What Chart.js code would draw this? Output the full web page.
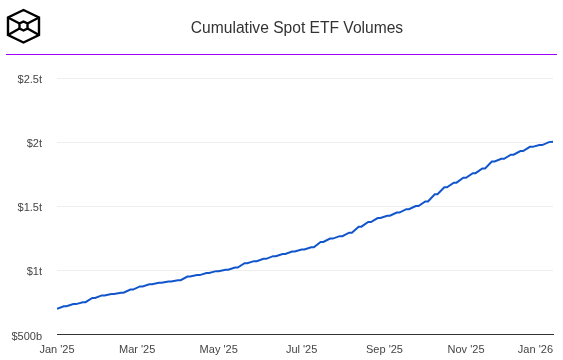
<!DOCTYPE html>
<html lang="en">
<head>
  <meta charset="UTF-8" />
  <title>Cumulative Spot ETF Volumes</title>
  <script src="https://cdn.jsdelivr.net/npm/chart.js"></script>
  <style>
    body {
      margin: 0;
      background: #fff;
      font-family: "Liberation Sans", Arial, sans-serif;
    }
    .wrap {
      position: relative;
      width: 563px;
      height: 360px;
      overflow: hidden;
    }
    #chart {
      position: absolute;
      left: 0;
      top: 0;
    }
    .logo {
      position: absolute;
      left: 0;
      top: 0;
    }
    .title {
      position: absolute;
      left: 40px;
      width: 514px;
      top: 18px;
      text-align: center;
      font-size: 15.6px;
      line-height: 20px;
      color: #333;
    }
    .rule {
      position: absolute;
      left: 6px;
      width: 551px;
      top: 54px;
      height: 1px;
      background: #a000ff;
    }
  </style>
</head>
<body>
  <div class="wrap">
    <canvas id="chart" width="563" height="360"></canvas>
    <svg class="logo" width="50" height="50" fill="none" stroke="#000" stroke-width="2.4">
      <path d="M23.5 10 L39 17.5 V35 L23.5 42.5 L8 35 V17.5 Z" />
      <path d="M23.5 21.5 L27.5 23.5 V28.5 L23.5 30.5 L19.5 28.5 V23.5 Z" />
      <path d="M8 17.5 L19.5 23.5 M39 17.5 L27.5 23.5 M8 35 L19.5 28.5 M39 35 L27.5 28.5" />
    </svg>
    <div class="title">Cumulative Spot ETF Volumes</div>
    <div class="rule"></div>
  </div>

  <script>
    // days along the axis, weekdays rise and the weekend stays flat
    const days = [0, 5, 7, 12, 14, 19, 21, 26, 28, 33, 35, 40, 42, 47, 49, 54, 56, 61, 63, 68,
      70, 75, 77, 82, 84, 89, 91, 96, 98, 103, 105, 110, 112, 117, 119, 124, 126, 131, 133, 138,
      140, 145, 147, 152, 154, 159, 161, 166, 168, 173, 175, 180, 182, 187, 189, 194, 196, 201, 203, 208,
      210, 215, 217, 222, 224, 229, 231, 236, 238, 243, 245, 250, 252, 257, 259, 264, 266, 271, 273, 278,
      280, 285, 287, 292, 294, 299, 301, 306, 308, 313, 315, 320, 322, 327, 329, 334, 336, 341, 343, 348,
      350, 355, 357, 362, 365];
    // cumulative volume, $ trillions
    const volumes = [0.701, 0.720, 0.720, 0.737, 0.737, 0.752, 0.752, 0.785, 0.785, 0.805, 0.805, 0.816,
      0.816, 0.826, 0.826, 0.850, 0.850, 0.875, 0.875, 0.892, 0.892, 0.903, 0.903, 0.913, 0.913, 0.923,
      0.923, 0.952, 0.952, 0.963, 0.963, 0.979, 0.979, 0.994, 0.994, 1.005, 1.005, 1.022, 1.022, 1.056,
      1.056, 1.072, 1.072, 1.090, 1.090, 1.111, 1.111, 1.128, 1.128, 1.147, 1.147, 1.163, 1.163, 1.180,
      1.180, 1.222, 1.222, 1.248, 1.248, 1.267, 1.267, 1.294, 1.294, 1.341, 1.341, 1.377, 1.377, 1.408,
      1.408, 1.426, 1.426, 1.451, 1.451, 1.477, 1.477, 1.502, 1.502, 1.538, 1.538, 1.594, 1.594, 1.648,
      1.648, 1.684, 1.684, 1.722, 1.722, 1.758, 1.758, 1.795, 1.795, 1.849, 1.849, 1.870, 1.870, 1.902,
      1.902, 1.930, 1.930, 1.963, 1.963, 1.977, 1.977, 2.000, 2.003];
    const tickDays = [0, 59, 119, 180, 241, 301, 365];
    const tickLabels = ["Jan '25", "Mar '25", "May '25", "Jul '25", "Sep '25", "Nov '25", "Jan '26"];
    const yTicks = [0.5, 1, 1.5, 2, 2.5];
    const yLabels = ['$500b', '$1t', '$1.5t', '$2t', '$2.5t'];

    // last x label sits flush with the end of the plot, y labels sit a bit under their lines
    const labelTweaks = {
      id: 'labelTweaks',
      beforeDraw(chart) {
        const xItems = chart.scales.x.getLabelItems(chart.chartArea);
        const last = xItems[xItems.length - 1];
        if (last) last.options.textAlign = 'right';
        if (!chart.$nudged) {
          chart.scales.y.getLabelItems(chart.chartArea).forEach(item => {
            item.options.translation[1] += 2;
          });
          chart.$nudged = true;
        }
      }
    };

    new Chart(document.getElementById('chart'), {
      type: 'line',
      data: {
        datasets: [{
          data: days.map((d, i) => ({ x: d, y: volumes[i] })),
          borderColor: '#1155cc',
          borderWidth: 2,
          pointRadius: 0,
          tension: 0
        }]
      },
      plugins: [labelTweaks],
      options: {
        responsive: false,
        animation: false,
        layout: { autoPadding: false, padding: { top: 78, right: 10 } },
        plugins: { legend: { display: false }, title: { display: false }, tooltip: { enabled: false } },
        scales: {
          x: {
            type: 'linear',
            min: 0,
            max: 365,
            afterBuildTicks: scale => { scale.ticks = tickDays.map(v => ({ value: v })); },
            afterFit: scale => {
              scale.height = 25.5;
              scale.paddingLeft = 0;
              scale.paddingRight = 0;
              scale._margins.right = 0;
            },
            border: { color: '#333', width: 1 },
            grid: { display: false, drawTicks: false },
            ticks: {
              autoSkip: false,
              maxRotation: 0,
              padding: 9,
              color: '#444',
              font: { family: '"Liberation Sans", Arial, sans-serif', size: 11 },
              callback: v => tickLabels[tickDays.indexOf(v)]
            }
          },
          y: {
            min: 0.5,
            max: 2.5,
            afterBuildTicks: scale => { scale.ticks = yTicks.map(v => ({ value: v })); },
            afterFit: scale => { scale.width = 57; },
            border: { display: false },
            grid: { color: '#eeeeee', drawTicks: false },
            ticks: {
              padding: 15,
              color: '#444',
              font: { family: '"Liberation Sans", Arial, sans-serif', size: 11 },
              callback: v => yLabels[yTicks.indexOf(v)]
            }
          }
        }
      }
    });
  </script>
</body>
</html>
